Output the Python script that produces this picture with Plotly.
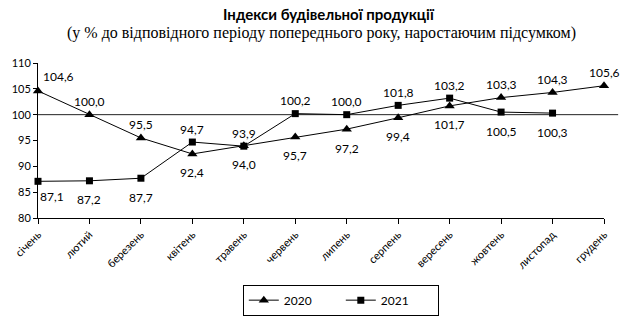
import plotly.graph_objects as go

months = ["січень", "лютий", "березень", "квітень", "травень", "червень",
          "липень", "серпень", "вересень", "жовтень", "листопад", "грудень"]
y2020 = [104.6, 100.0, 95.5, 92.4, 94.0, 95.7, 97.2, 99.4, 101.7, 103.3, 104.3, 105.6]
y2021 = [87.1, 87.2, 87.7, 94.7, 93.9, 100.2, 100.0, 101.8, 103.2, 100.5, 100.3]
y_ticks = [80, 85, 90, 95, 100, 105, 110]

# label placement styles (not data)
pos2020 = ["ar", "a", "a", "b", "b", "b", "b", "b", "b", "a", "a", "a"]
pos2021 = ["br", "b", "b", "a", "a", "a", "a", "a", "a", "b", "b"]

FONT = "Lato"

fig = go.Figure()
fig.add_trace(go.Scatter(
    x=months, y=y2020, name="2020", mode="lines+markers",
    line=dict(color="black", width=1),
    marker=dict(symbol="triangle-up", size=9, color="black"),
    cliponaxis=False))
fig.add_trace(go.Scatter(
    x=months[:len(y2021)], y=y2021, name="2021", mode="lines+markers",
    line=dict(color="black", width=1),
    marker=dict(symbol="square", size=7, color="black"),
    cliponaxis=False))

def fmt(v):
    return f"{v:.1f}".replace(".", ",")

shifts = {"a": (0, 13), "b": (0, -19), "ar": (20, 14), "br": (14, -15)}
annotations = []
for xs, ys, ps in ((months, y2020, pos2020), (months, y2021, pos2021)):
    for xv, yv, p in zip(xs, ys, ps):
        dx, dy = shifts[p]
        annotations.append(dict(
            x=xv, y=yv, xref="x", yref="y", text=fmt(yv), showarrow=False,
            xanchor="center", yanchor="middle",
            xshift=dx, yshift=dy, font=dict(family=FONT, size=12, color="black")))

fig.update_layout(
    width=639, height=327,
    margin=dict(l=36, r=35, t=63, b=104),
    paper_bgcolor="white", plot_bgcolor="white",
    showlegend=True,
    font=dict(family=FONT, size=11, color="black"),
    annotations=annotations,
    legend=dict(orientation="h", x=0.535, y=-0.53, xanchor="center", yanchor="middle",
                bordercolor="black", borderwidth=1, font=dict(family=FONT, size=12),
                entrywidth=52, itemwidth=30, tracegroupgap=0),
    shapes=[dict(type="line", xref="paper", yref="y", x0=0, x1=1.025, y0=100, y1=100,
                 line=dict(color="#222", width=1), layer="below")],
)

fig.add_annotation(text="<b>Індекси будівельної продукції</b>", xref="paper", yref="paper",
                   x=(328 - 36) / 568, y=1 + (63 - 12) / 160, showarrow=False,
                   xanchor="center", yanchor="middle",
                   font=dict(family=FONT, size=15, color="black"))
fig.add_annotation(text="(у % до відповідного періоду попереднього року, наростаючим підсумком)",
                   xref="paper", yref="paper",
                   x=(320 - 36) / 568, y=1 + (63 - 32) / 160, showarrow=False,
                   xanchor="center", yanchor="middle",
                   font=dict(family="Liberation Serif", size=16, color="black"))

fig.update_xaxes(type="category", range=[0, 11], showline=True, linecolor="black",
                 ticks="outside", ticklen=5, tickcolor="black", tickangle=-45,
                 showgrid=False, zeroline=False, tickfont=dict(family=FONT, size=11))
fig.update_yaxes(range=[80, 110], tickvals=y_ticks, showline=True, linecolor="black",
                 ticks="outside", ticklen=4, tickcolor="black", showgrid=False,
                 zeroline=False, tickfont=dict(family=FONT, size=11))

fig.write_html("out.html")
